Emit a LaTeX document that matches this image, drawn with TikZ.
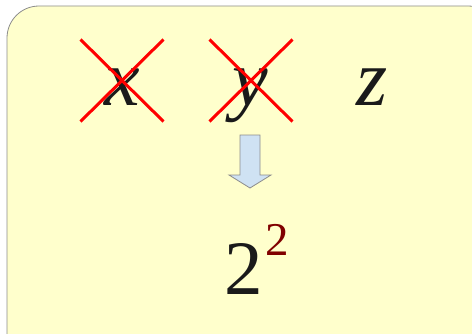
\documentclass[tikz,border=0pt]{standalone}
\usepackage{fontspec}
\setmainfont{Liberation Serif}
\usetikzlibrary{shapes.misc,positioning}
\definecolor{paleyellow}{HTML}{FFFFCC}
\definecolor{framegray}{HTML}{8C8C8C}
\definecolor{paleblue}{HTML}{CFE2F3}
\definecolor{darkred}{HTML}{800000}
\definecolor{ink}{HTML}{1A1A1A}
\begin{document}
\begin{tikzpicture}
        [x=1pt, y=1pt,
        var/.style={anchor=base, inner sep=0pt, text=ink, font=\fontsize{80}{80}\selectfont\itshape},
        crossed/.style={cross out, draw=red, line width=3pt, minimum width=80pt, minimum height=79pt, inner sep=0pt},
        bigarrow/.style={fill=paleblue, draw=framegray, line width=0.8pt, line join=miter},
        num/.style={anchor=base, inner sep=0pt, text=ink, font=\fontsize{77}{77}\selectfont},
        power/.style={anchor=base west, inner sep=0pt, text=darkred, font=\fontsize{47}{47}\selectfont}]

        \useasboundingbox (0,0) rectangle (472,333);

        % background card
        \draw[fill=paleyellow, draw=framegray, line width=0.8pt, rounded corners=32pt]
            (7,327) rectangle (500,-40);

        % variables
        \node[var] (x) at (122,228) {x};
        \node[var] (y) at (250,228) {y};
        \node[var] (z) at (372,228) {z};

        % crosses over x and y
        \node[crossed] (xcross) at (122,252.5) {};
        \node[crossed] (ycross) at (251,252.5) {};

        % down arrow
        \draw[bigarrow] (240,198) -- (260,198) -- (260,158) -- (271,158)
            -- (250,145) -- (229,158) -- (240,158) -- cycle;

        % result
        \node[num] (res) at (244,39) {2};
        \node[power] (pow) at ([xshift=2pt, yshift=39pt]res.base east) {2};

    \end{tikzpicture}
\end{document}
